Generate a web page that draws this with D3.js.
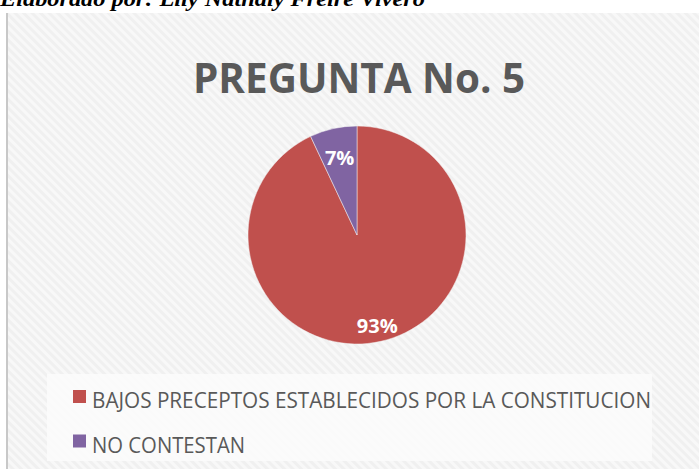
<!DOCTYPE html>
<html>
<head>
<meta charset="utf-8">
<script src="https://cdn.jsdelivr.net/npm/d3@7"></script>
<style>
  html, body { margin: 0; padding: 0; background: #fff; }
  svg { display: block; }
</style>
</head>
<body>
<svg id="chart" width="699" height="469"></svg>
<script>
// Chart data
var categories = ["BAJOS PRECEPTOS ESTABLECIDOS POR LA CONSTITUCION", "NO CONTESTAN"];
var values = [93, 7];
var colors = ["#c0504d", "#8064a2"];
var title = "PREGUNTA No. 5";
var caption = "Elaborado por: Lily Nathaly Freire Vivero";

var svg = d3.select("#chart"),
    width = +svg.attr("width"),
    height = +svg.attr("height");

var defs = svg.append("defs");

// light striped background (office chart style)
var pat = defs.append("pattern")
    .attr("id", "stripes")
    .attr("patternUnits", "userSpaceOnUse")
    .attr("width", 6)
    .attr("height", 6)
    .attr("patternTransform", "rotate(-45)");
pat.append("rect").attr("width", 6).attr("height", 6).attr("fill", "#f8f8f8");
pat.append("rect").attr("width", 3).attr("height", 6).attr("fill", "#f0f0f0");

// caption, cut at the top of the page
svg.append("text")
    .attr("x", 0)
    .attr("y", 6)
    .attr("font-family", "'Liberation Serif', 'Times New Roman', serif")
    .attr("font-weight", "bold")
    .attr("font-style", "italic")
    .attr("font-size", "22px")
    .attr("textLength", 425)
    .attr("lengthAdjust", "spacingAndGlyphs")
    .attr("fill", "#000")
    .text(caption);

// chart area
svg.append("rect")
    .attr("x", 6)
    .attr("y", 13)
    .attr("width", width - 6)
    .attr("height", height - 13)
    .attr("fill", "url(#stripes)");

svg.append("line")
    .attr("x1", 7).attr("x2", 7)
    .attr("y1", 13).attr("y2", height)
    .attr("stroke", "#c8c8c8")
    .attr("stroke-width", 2);

// title
svg.append("text")
    .attr("x", 359)
    .attr("y", 93)
    .attr("text-anchor", "middle")
    .attr("font-family", "'Open Sans', sans-serif")
    .attr("font-weight", "bold")
    .attr("font-size", "42px")
    .attr("fill", "#595959")
    .attr("textLength", 332)
    .attr("lengthAdjust", "spacingAndGlyphs")
    .text(title);

// pie
var cx = 357, cy = 235, r = 109;
var pie = d3.pie().sort(null);
var arcs = pie(values);
var arc = d3.arc().innerRadius(0).outerRadius(r);
var total = d3.sum(values);

var g = svg.append("g").attr("transform", "translate(" + cx + "," + cy + ")");

g.selectAll("path")
    .data(arcs)
    .enter().append("path")
    .attr("d", arc)
    .attr("fill", function (d, i) { return colors[i]; })
    .attr("stroke", "#f2f2f2")
    .attr("stroke-width", 0.5);

// percentage labels (Excel "best fit" puts them at different depths)
var labelDepth = [0.85, 0.73];
g.selectAll("text")
    .data(arcs)
    .enter().append("text")
    .attr("transform", function (d, i) {
        var rr = r * labelDepth[i];
        var c = d3.arc().innerRadius(rr).outerRadius(rr).centroid(d);
        return "translate(" + c[0] + "," + c[1] + ")";
    })
    .attr("text-anchor", "middle")
    .attr("dy", ".36em")
    .attr("font-family", "'Open Sans', sans-serif")
    .attr("font-weight", "bold")
    .attr("font-size", "20px")
    .attr("fill", "#fff")
    .text(function (d) { return Math.round(d.data / total * 100) + "%"; });

// legend
svg.append("rect")
    .attr("x", 47)
    .attr("y", 374)
    .attr("width", 605)
    .attr("height", 87)
    .attr("fill", "#fcfcfc")
    .attr("fill-opacity", 0.85);

var legend = svg.append("g")
    .selectAll("g")
    .data(categories)
    .enter().append("g")
    .attr("transform", function (d, i) { return "translate(73," + (390 + i * 44.5) + ")"; });

legend.append("rect")
    .attr("width", 13)
    .attr("height", 13)
    .attr("fill", function (d, i) { return colors[i]; });

legend.append("text")
    .attr("x", 19)
    .attr("y", 18)
    .attr("font-family", "'Open Sans', sans-serif")
    .attr("font-size", "21px")
    .attr("fill", "#595959")
    .attr("textLength", function (d, i) { return i === 0 ? 559 : 153; })
    .attr("lengthAdjust", "spacingAndGlyphs")
    .text(function (d) { return d; });
</script>
</body>
</html>
